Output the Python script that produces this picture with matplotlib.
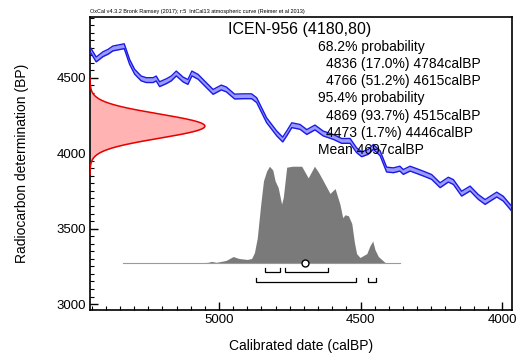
import numpy as np
import matplotlib
matplotlib.use("Agg")
import matplotlib.pyplot as plt
from matplotlib.ticker import MultipleLocator

plt.rcParams['font.family'] = ['Liberation Sans', 'DejaVu Sans']

# IntCal13 calibration curve segment (cal BP vs radiocarbon BP)
curve_cal = [5454, 5434, 5410, 5392, 5375, 5345, 5335, 5316, 5298, 5275, 5257, 5233,
             5222, 5210, 5186, 5169, 5151, 5127, 5110, 5096, 5074, 5045, 5021, 4992,
             4974, 4945, 4914, 4885, 4867, 4832, 4796, 4775, 4761, 4743, 4714, 4690,
             4661, 4632, 4596, 4567, 4537, 4514, 4496, 4473, 4455, 4431, 4408, 4384,
             4361, 4349, 4325, 4302, 4278, 4249, 4219, 4190, 4172, 4143, 4113, 4084,
             4060, 4019, 3996, 3966]
curve_c14 = [4684, 4622, 4657, 4673, 4695, 4706, 4710, 4606, 4540, 4496, 4485, 4485,
             4496, 4458, 4478, 4496, 4529, 4489, 4473, 4529, 4507, 4452, 4407, 4436,
             4423, 4376, 4378, 4378, 4352, 4219, 4131, 4091, 4131, 4186, 4175, 4141,
             4171, 4131, 4108, 4082, 4082, 4020, 3993, 4009, 4042, 4000, 3892, 3887,
             3898, 3876, 3898, 3882, 3865, 3843, 3788, 3825, 3809, 3732, 3766, 3710,
             3677, 3726, 3699, 3632]
curve_sigma = 16

# Measured radiocarbon date
sample_name = "ICEN-956"
c14_mean = 4180
c14_err = 80

# Calibrated probability distribution (relative)
post_cal = [5340, 5100, 5040, 5026, 5010, 4975, 4950, 4930, 4900, 4885, 4875, 4865,
            4853, 4843, 4832, 4822, 4810, 4802, 4791, 4779, 4773, 4761, 4740, 4708,
            4685, 4663, 4649, 4632, 4608, 4590, 4573, 4563, 4555, 4543, 4531, 4522,
            4514, 4502, 4490, 4478, 4467, 4457, 4449, 4437, 4414, 4400, 4360]
post_prob = [0.0, 0.003, 0.01, 0.02, 0.01, 0.03, 0.07, 0.05, 0.04, 0.05, 0.11, 0.26,
             0.60, 0.85, 0.95, 1.0, 0.96, 0.85, 0.78, 0.61, 0.68, 0.99, 1.0, 1.0,
             0.88, 1.0, 0.94, 0.85, 0.72, 0.77, 0.61, 0.47, 0.50, 0.49, 0.41, 0.22,
             0.10, 0.06, 0.08, 0.10, 0.18, 0.23, 0.14, 0.07, 0.01, 0.004, 0.0]

# Highest posterior density ranges
range68 = [(4836, 4784, 17.0), (4766, 4615, 51.2)]
range95 = [(4869, 4515, 93.7), (4473, 4446, 1.7)]
cal_mean = 4697

header = "OxCal v4.3.2 Bronk Ramsey (2017); r:5  IntCal13 atmospheric curve (Reimer et al 2013)"

fig = plt.figure(figsize=(5.18, 3.56), dpi=100)
ax = fig.add_axes([0.1737, 0.129, 0.8147, 0.823])

xmin, xmax = 5456, 3965
ymin, ymax = 2960, 4903
ax.set_xlim(xmin, xmax)
ax.set_ylim(ymin, ymax)

# calibration curve band
cc = np.array(curve_cal)
cy = np.array(curve_c14)
ax.fill_between(cc, cy - curve_sigma, cy + curve_sigma, color='#9a9aff', lw=0, zorder=2)
ax.plot(cc, cy - curve_sigma, color='#1a1ae6', lw=1.0, zorder=3)
ax.plot(cc, cy + curve_sigma, color='#1a1ae6', lw=1.0, zorder=3)

# radiocarbon measurement as a normal curve on the y axis
yy = np.linspace(c14_mean - 4 * c14_err, c14_mean + 4 * c14_err, 400)
width = 406
xx = xmin - width * np.exp(-0.5 * ((yy - c14_mean) / c14_err) ** 2)
ax.fill_betweenx(yy, xmin, xx, color='#ffb3b3', lw=0, zorder=2)
ax.plot(xx, yy, color='#e60000', lw=1.1, zorder=3)

# calibrated distribution
base = 3270
height = 644
pc = np.array(post_cal)
pp = np.array(post_prob)
ax.fill_between(pc, base, base + height * pp, color='#7a7a7a', lw=0, zorder=4)
ax.plot([post_cal[0], post_cal[-1]], [base, base], color='#9a9a9a', lw=0.8, zorder=4)

# range brackets
tick_h = 27
for level, rngs in ((3212, range68), (3147, range95)):
    for a, b, _ in rngs:
        ax.plot([a, a, b, b], [level + tick_h, level, level, level + tick_h],
                color='black', lw=0.9, zorder=5, solid_joinstyle='miter')

ax.plot([cal_mean], [base], marker='o', ms=5, mfc='white', mec='black', mew=1.0, zorder=6)

# ticks
ax.xaxis.set_major_locator(MultipleLocator(500))
ax.xaxis.set_minor_locator(MultipleLocator(50))
ax.yaxis.set_major_locator(MultipleLocator(500))
ax.yaxis.set_minor_locator(MultipleLocator(50))
ax.tick_params(which='both', direction='in', top=False, right=False, labelsize=9.5, pad=3)
ax.tick_params(which='major', length=6, width=1)
ax.tick_params(which='minor', length=3, width=0.8)
for s in ax.spines.values():
    s.set_linewidth(1.2)

ax.set_xlabel("Calibrated date (calBP)", fontsize=10, labelpad=9)
ax.set_ylabel("Radiocarbon determination (BP)", fontsize=10, labelpad=20)

# annotation text
fig.text(0.174, 0.968, header, fontsize=4, ha='left', va='center')
ax.text((228 - 90) / 422, 1 - (29 - 17) / 293, f"{sample_name} ({c14_mean},{c14_err})",
        transform=ax.transAxes, fontsize=11.5, ha='left', va='center')
lines = []
lines.append((0, "68.2% probability"))
for a, b, p in range68:
    lines.append((1, f"{a} ({p:.1f}%) {b}calBP"))
lines.append((0, "95.4% probability"))
for a, b, p in range95:
    lines.append((1, f"{a} ({p:.1f}%) {b}calBP"))
lines.append((0, f"Mean {cal_mean}calBP"))
y0 = 1 - (46.7 - 17) / 293
dy = 17.2 / 293
for i, (indent, s) in enumerate(lines):
    x = (318 - 90) / 422 if indent == 0 else (326 - 90) / 422
    ax.text(x, y0 - i * dy, s, transform=ax.transAxes, fontsize=10, ha='left',
            va='center', zorder=7)

fig.savefig("out.png", dpi=100)
